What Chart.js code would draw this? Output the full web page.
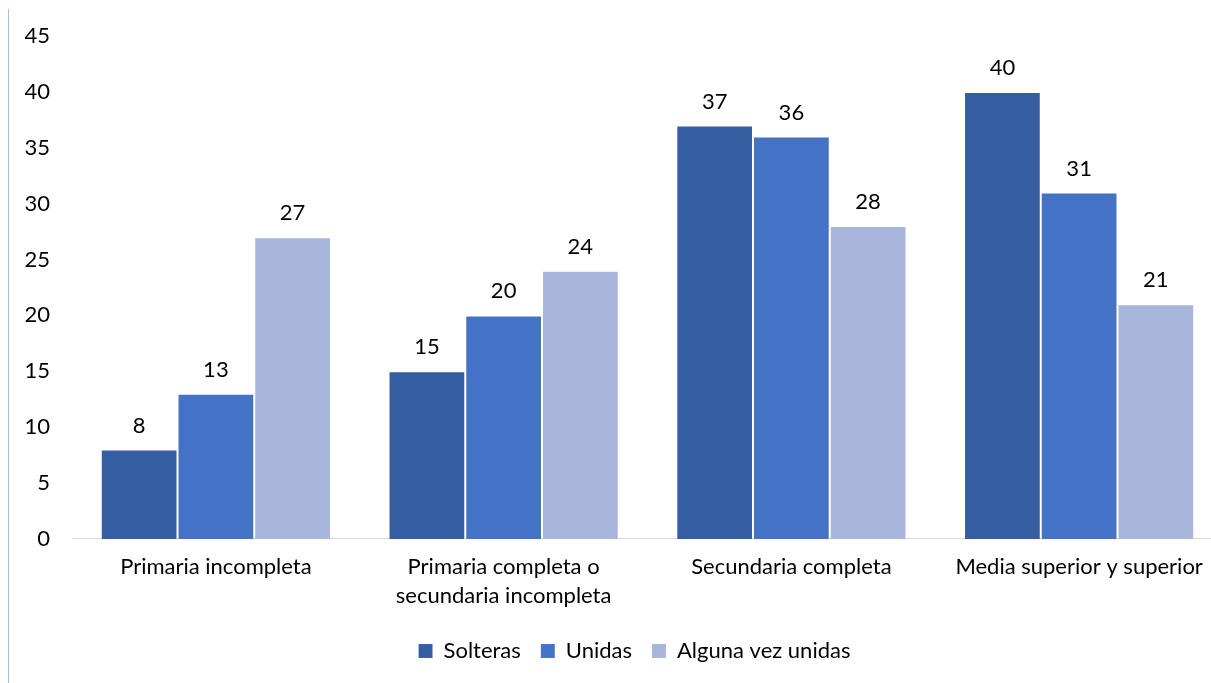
<!DOCTYPE html>
<html>
<head>
<meta charset="utf-8">
<script src="https://cdn.jsdelivr.net/npm/chart.js@4"></script>
<style>
  html, body { margin: 0; padding: 0; background: #fff; overflow: hidden; }
  #wrap { width: 1224px; height: 683px; }
</style>
</head>
<body>
<div id="wrap"><canvas id="chart"></canvas></div>
<script>
const categories = [
  "Primaria incompleta",
  ["Primaria completa o", "secundaria incompleta"],
  "Secundaria completa",
  "Media superior y superior",
];
const solteras = [8, 15, 37, 40];
const unidas = [13, 20, 36, 31];
const algunaVez = [27, 24, 28, 21];
const yTicks = { min: 0, max: 45, step: 5 };

const colors = ["#355EA1", "#4472C4", "#A9B6DC"];
const fontFamily = "Lato, 'Noto Sans', sans-serif";
const fontSize = 22;

Chart.defaults.font.family = fontFamily;
Chart.defaults.font.size = fontSize;
Chart.defaults.color = "#000";

const valueLabels = {
  id: "valueLabels",
  afterDatasetsDraw(chart) {
    const { ctx } = chart;
    ctx.save();
    ctx.font = `${fontSize}px ${fontFamily}`;
    ctx.fillStyle = "#000";
    ctx.textAlign = "center";
    ctx.textBaseline = "middle";
    chart.data.datasets.forEach((ds, i) => {
      chart.getDatasetMeta(i).data.forEach((bar, j) => {
        ctx.fillText(String(ds.data[j]), bar.x, bar.y - 24);
      });
    });
    ctx.restore();
  },
};

// thin chart frame line on the left, and legend nudged into place
const frameLine = {
  id: "frameLine",
  afterLayout(chart) {
    chart.legend.left += 13;
    chart.legend.right += 13;
    chart.legend.top -= 3;
    chart.legend.bottom -= 3;
  },
  beforeDraw(chart) {
    const { ctx } = chart;
    ctx.save();
    ctx.strokeStyle = "#9DC3E6";
    ctx.lineWidth = 1;
    ctx.beginPath();
    ctx.moveTo(8.5, 9);
    ctx.lineTo(8.5, chart.height);
    ctx.stroke();
    ctx.restore();
  },
};

new Chart("chart", {
  type: "bar",
  data: {
    labels: categories,
    datasets: [
      { label: "Solteras", data: solteras, backgroundColor: colors[0] },
      { label: "Unidas", data: unidas, backgroundColor: colors[1] },
      { label: "Alguna vez unidas", data: algunaVez, backgroundColor: colors[2] },
    ],
  },
  options: {
    responsive: true,
    maintainAspectRatio: false,
    animation: false,
    layout: { padding: { left: 20, right: 1, top: 36, bottom: 8 } },
    datasets: {
      bar: {
        barPercentage: 1,
        categoryPercentage: 0.8,
        borderWidth: 1,
        borderColor: "rgba(255,255,255,0.1)",
      },
    },
    scales: {
      x: {
        grid: { display: false, drawTicks: false },
        border: { display: true, color: "#D9D9D9", width: 1 },
        ticks: { padding: 13, maxRotation: 0, font: { size: fontSize, lineHeight: 1.32 } },
      },
      y: {
        min: yTicks.min,
        max: yTicks.max,
        grid: { display: false, drawTicks: false },
        border: { display: false },
        ticks: { stepSize: yTicks.step, padding: 22, font: { size: fontSize } },
        afterFit(scale) {
          scale.width = 52;
        },
      },
    },
    plugins: {
      legend: {
        position: "bottom",
        labels: {
          boxWidth: 14,
          boxHeight: 14,
          padding: 20,
          font: { size: fontSize },
        },
      },
      tooltip: { enabled: false },
    },
  },
  plugins: [valueLabels, frameLine],
});
</script>
</body>
</html>
